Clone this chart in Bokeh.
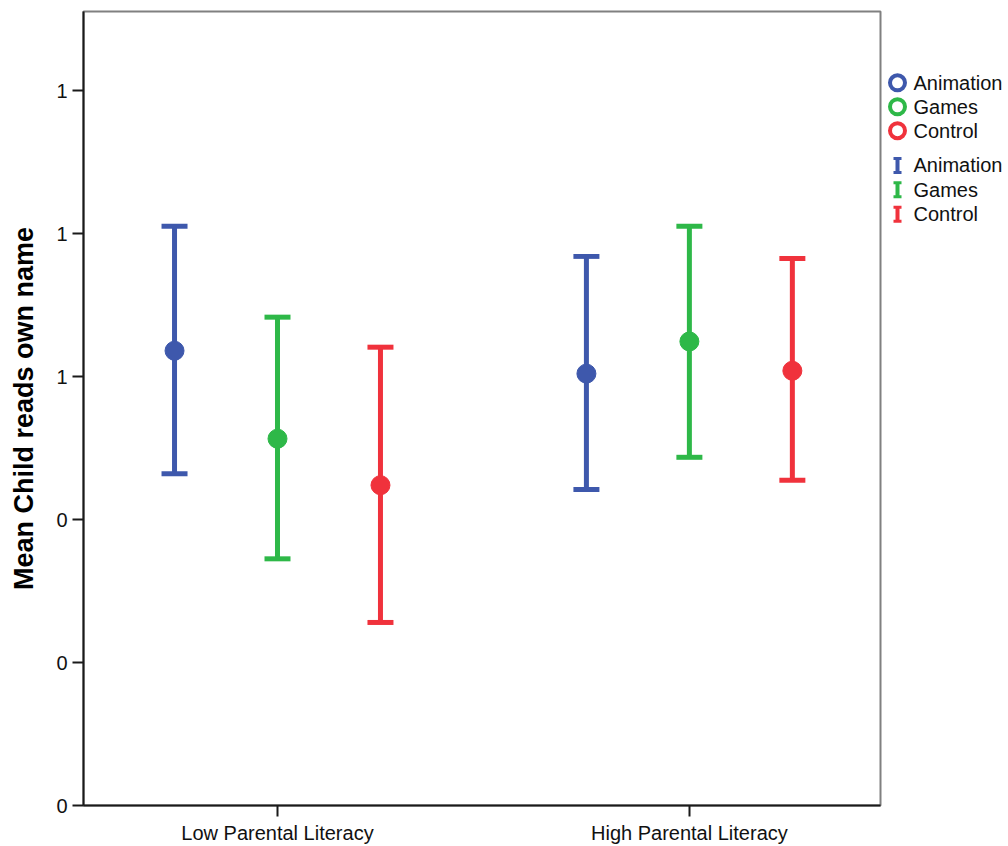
from bokeh.plotting import figure
from bokeh.models import ColumnDataSource, Range1d, FixedTicker, Whisker, TeeHead
from bokeh.layouts import row
from bokeh.embed import file_html
from bokeh.resources import INLINE
from bokeh.core.properties import value

# ---------------- data ----------------
groups = ["Low Parental Literacy", "High Parental Literacy"]
conditions = ["Animation", "Games", "Control"]
colors = ["#3E58AC", "#2EB848", "#F0323C"]

animation_mean = [0.636, 0.604]
animation_lower = [0.464, 0.442]
animation_upper = [0.810, 0.768]

games_mean = [0.513, 0.649]
games_lower = [0.345, 0.487]
games_upper = [0.683, 0.810]

control_mean = [0.448, 0.608]
control_lower = [0.256, 0.455]
control_upper = [0.641, 0.765]

y_ticks = [0, 0.2, 0.4, 0.6, 0.8, 1.0]
y_tick_labels = ["0", "0", "0", "1", "1", "1"]
y_label = "Mean Child reads own name"

means = [animation_mean, games_mean, control_mean]
lowers = [animation_lower, games_lower, control_lower]
uppers = [animation_upper, games_upper, control_upper]

# ---------------- layout constants ----------------
FONT = "Liberation Sans"
group_pos = [1, 2]
offsets = [-0.25, 0.0, 0.25]
FIG_H = 846

p = figure(frame_width=797, frame_height=794,
           x_range=Range1d(0.529, 2.464), y_range=Range1d(0, 1.1105),
           output_backend="svg", toolbar_location=None, title=None,
           min_border_left=83, min_border_top=11, min_border_bottom=41,
           min_border_right=2)
p.xgrid.visible = False
p.ygrid.visible = False
p.outline_line_color = "#808080"
p.outline_line_width = 2
p.background_fill_color = "white"
p.border_fill_color = "white"

for i, cond in enumerate(conditions):
    src = ColumnDataSource(dict(
        x=[g + offsets[i] for g in group_pos],
        mean=means[i], lower=lowers[i], upper=uppers[i]))
    w = Whisker(source=src, base="x", upper="upper", lower="lower",
                dimension="height", line_color=colors[i], line_width=5,
                upper_head=TeeHead(size=26, line_color=colors[i], line_width=5),
                lower_head=TeeHead(size=26, line_color=colors[i], line_width=5))
    p.add_layout(w)
    p.scatter("x", "mean", source=src, size=19, marker="circle",
              fill_color=colors[i], line_color=colors[i], line_width=1)

for ax in (p.xaxis[0], p.yaxis[0]):
    ax.axis_line_color = "#1a1a1a"
    ax.axis_line_width = 2
    ax.major_tick_out = 11
    ax.major_tick_in = 0
    ax.major_tick_line_color = "#1a1a1a"
    ax.major_tick_line_width = 2
    ax.minor_tick_line_color = None
    ax.major_label_text_font = FONT
    ax.major_label_text_font_size = "20px"
    ax.major_label_text_color = "#111111"
    ax.major_label_standoff = 5

p.xaxis.ticker = FixedTicker(ticks=group_pos)
p.xaxis.major_label_overrides = {g: name for g, name in zip(group_pos, groups)}
p.yaxis.ticker = FixedTicker(ticks=y_ticks)
p.yaxis.major_label_overrides = {t: lab for t, lab in zip(y_ticks, y_tick_labels)}
p.yaxis.axis_label = y_label
p.yaxis.axis_label_text_font = FONT
p.yaxis.axis_label_text_font_style = "bold"
p.yaxis.axis_label_text_font_size = "27px"
p.yaxis.axis_label_text_color = "#000000"
p.yaxis.axis_label_standoff = 14

# ---------------- legend panel ----------------
LEG_W = 124
leg = figure(width=LEG_W, height=FIG_H, x_range=Range1d(0, LEG_W),
             y_range=Range1d(FIG_H, 0), output_backend="svg",
             toolbar_location=None, title=None, min_border=0,
             x_axis_type=None, y_axis_type=None)
leg.grid.visible = False
leg.outline_line_color = None
leg.background_fill_color = "white"
leg.border_fill_color = "white"

icon_x = 15
text_x = 31
ring_y = [76 + 25.5 * k for k in range(len(conditions))]
bar_y = [164 + 26 * k for k in range(len(conditions))]

leg.scatter(x=[icon_x] * 3, y=ring_y, size=15, marker="circle",
            fill_color="white", line_color=colors, line_width=4)
leg.text(x=[text_x] * 3, y=ring_y, text=conditions, text_baseline="middle",
         text_font=value(FONT), text_font_size="20px", text_color="#111111")

half_h = 7.5
cap = 4
leg.segment(x0=[icon_x] * 3, y0=[y - half_h for y in bar_y],
            x1=[icon_x] * 3, y1=[y + half_h for y in bar_y],
            line_color=colors, line_width=4)
leg.segment(x0=[icon_x - cap] * 3, y0=[y - half_h for y in bar_y],
            x1=[icon_x + cap] * 3, y1=[y - half_h for y in bar_y],
            line_color=colors, line_width=3)
leg.segment(x0=[icon_x - cap] * 3, y0=[y + half_h for y in bar_y],
            x1=[icon_x + cap] * 3, y1=[y + half_h for y in bar_y],
            line_color=colors, line_width=3)
leg.text(x=[text_x] * 3, y=bar_y, text=conditions, text_baseline="middle",
         text_font=value(FONT), text_font_size="20px", text_color="#111111")

layout = row(p, leg)
open("out.html", "w").write(file_html(layout, INLINE))
